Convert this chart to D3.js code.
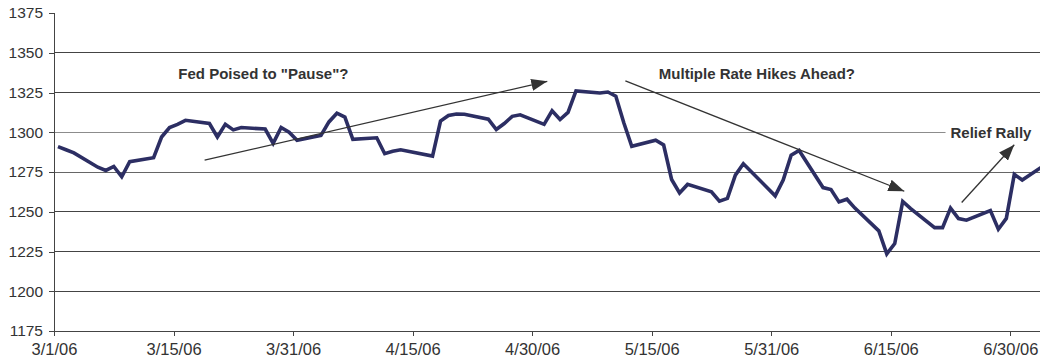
<!DOCTYPE html>
<html>
<head>
<meta charset="utf-8">
<script src="https://cdn.jsdelivr.net/npm/d3@7"></script>
<style>
  body { margin: 0; background: #fff; }
  text { font-family: "Liberation Sans", Arial, Helvetica, sans-serif; }
</style>
</head>
<body>
<div id="chart"></div>
<script>
// S&P 500 daily closes, Mar-Jul 2006
const dates = [
  "3/1/06","3/2/06","3/3/06","3/6/06","3/7/06","3/8/06","3/9/06","3/10/06","3/13/06","3/14/06",
  "3/15/06","3/16/06","3/17/06","3/20/06","3/21/06","3/22/06","3/23/06","3/24/06","3/27/06","3/28/06",
  "3/29/06","3/30/06","3/31/06","4/3/06","4/4/06","4/5/06","4/6/06","4/7/06","4/10/06","4/11/06",
  "4/12/06","4/13/06","4/17/06","4/18/06","4/19/06","4/20/06","4/21/06","4/24/06","4/25/06","4/26/06",
  "4/27/06","4/28/06","5/1/06","5/2/06","5/3/06","5/4/06","5/5/06","5/8/06","5/9/06","5/10/06",
  "5/11/06","5/12/06","5/15/06","5/16/06","5/17/06","5/18/06","5/19/06","5/22/06","5/23/06","5/24/06",
  "5/25/06","5/26/06","5/30/06","5/31/06","6/1/06","6/2/06","6/5/06","6/6/06","6/7/06","6/8/06",
  "6/9/06","6/12/06","6/13/06","6/14/06","6/15/06","6/16/06","6/19/06","6/20/06","6/21/06","6/22/06",
  "6/23/06","6/26/06","6/27/06","6/28/06","6/29/06","6/30/06","7/3/06"
];
const closes = [
  1291, 1289, 1287, 1278, 1276, 1278.5, 1272, 1281.5, 1284, 1297,
  1303, 1305, 1307.5, 1305.5, 1297, 1305, 1301.5, 1303, 1302, 1293,
  1303, 1300, 1295, 1298, 1306.5, 1312, 1309.5, 1295.5, 1296.5, 1286.5,
  1288, 1289, 1285, 1307, 1310.5, 1311.5, 1311.3, 1308.2, 1301.7, 1305.5,
  1310, 1311, 1305, 1313.5, 1308, 1312.5, 1326, 1324.7, 1325.3, 1322.7,
  1306, 1291.2, 1295, 1292, 1270.3, 1261.8, 1267.2, 1262.5, 1256.6, 1258.4,
  1273, 1280.2, 1260, 1270, 1285.5, 1288.5, 1265.2, 1264, 1256.2, 1257.9,
  1252.3, 1238, 1223.5, 1230, 1256.5, 1252, 1240, 1240, 1252.3, 1245.7,
  1244.7, 1250.8, 1239, 1245.8, 1273.5, 1270, 1280
];

const yTicks = [1175, 1200, 1225, 1250, 1275, 1300, 1325, 1350, 1375];
const xTickLabels = ["3/1/06","3/15/06","3/31/06","4/15/06","4/30/06","5/15/06","5/31/06","6/15/06","6/30/06"];

// annotations in data units: day offset from 3/1/06, index level
const noteTexts = ["Fed Poised to \"Pause\"?", "Multiple Rate Hikes Ahead?", "Relief Rally"];
const noteDays  = [15.1, 75.4, 112];
const noteLevels = [1333.3, 1333.3, 1296.4];
const arrowFrom = [[18.4, 1282.4], [71.2, 1332.3], [113.4, 1255.8]];
const arrowTo   = [[61.4, 1332.0], [106.2, 1262.9], [120.0, 1292.1]];

const width = 1040, height = 364;
const margin = {top: 13, right: 0, bottom: 33, left: 54};
const innerH = height - margin.top - margin.bottom;

const parse = d3.timeParse("%m/%d/%y");
const start = parse(dates[0]);
const dayOf = s => d3.timeDay.count(start, parse(s));
const data = dates.map((d, i) => ({day: dayOf(d), value: closes[i]}));

// tick marks sit on day boundaries every 15 days, points in the middle of their day
const x = d3.scaleLinear().domain([-0.5, 119.5]).range([0, 956.3]);
const y = d3.scaleLinear().domain([1175, 1375]).range([innerH, 0]);
const xTickVals = xTickLabels.map((_, i) => -0.5 + 15 * i);

const svg = d3.select("#chart").append("svg")
    .attr("width", width)
    .attr("height", height);

svg.append("defs").append("marker")
    .attr("id", "head")
    .attr("markerUnits", "userSpaceOnUse")
    .attr("viewBox", "0 0 16 12")
    .attr("markerWidth", 16)
    .attr("markerHeight", 12)
    .attr("refX", 16)
    .attr("refY", 6)
    .attr("orient", "auto")
  .append("path")
    .attr("d", "M0,0L16,6L0,12Z")
    .attr("fill", "#333");

const g = svg.append("g").attr("transform", `translate(${margin.left},${margin.top})`);

// grid
g.append("g").selectAll("line")
  .data(yTicks.filter(v => v > 1175 && v < 1375))
  .join("line")
    .attr("x1", 0).attr("x2", width)
    .attr("y1", d => y(d)).attr("y2", d => y(d))
    .attr("stroke", d => d === 1300 ? "#8c8c8c" : d === 1275 ? "#666" : "#444")
    .attr("stroke-width", 1)
    .attr("shape-rendering", "crispEdges");

// axes
const yAxis = g.append("g")
    .call(d3.axisLeft(y).tickValues(yTicks).tickFormat(d3.format("d")).tickSize(5).tickPadding(6));
const xAxis = g.append("g")
    .attr("transform", `translate(0,${innerH})`)
    .call(d3.axisBottom(x).tickValues(xTickVals).tickFormat((_, i) => xTickLabels[i]).tickSize(5).tickPadding(4));

yAxis.select(".domain").attr("d", `M0,0V${innerH}`);
xAxis.select(".domain").attr("d", `M0,0H${width}`);
[yAxis, xAxis].forEach(a => {
  a.selectAll(".domain, .tick line").attr("stroke", "#444").attr("shape-rendering", "crispEdges");
  a.selectAll("text").attr("fill", "#333").style("font-family", "'Liberation Sans', Arial, sans-serif");
});
yAxis.selectAll("text").style("font-size", "15.5px");
xAxis.selectAll("text").style("font-size", "16.5px").attr("dy", "0.9em");

// price line
g.append("path")
    .datum(data)
    .attr("fill", "none")
    .attr("stroke", "#2c2e63")
    .attr("stroke-width", 3.6)
    .attr("stroke-linejoin", "miter")
    .attr("d", d3.line().x(d => x(d.day)).y(d => y(d.value)));

// arrows
g.append("g").selectAll("line")
  .data(arrowFrom.map((f, i) => [f, arrowTo[i]]))
  .join("line")
    .attr("x1", d => x(d[0][0])).attr("y1", d => y(d[0][1]))
    .attr("x2", d => x(d[1][0])).attr("y2", d => y(d[1][1]))
    .attr("stroke", "#333")
    .attr("stroke-width", 1.3)
    .attr("marker-end", "url(#head)");

// notes
const notes = g.append("g").selectAll("g")
  .data(noteTexts.map((t, i) => ({text: t, day: noteDays[i], level: noteLevels[i]})))
  .join("g")
    .attr("transform", d => `translate(${x(d.day)},${y(d.level)})`);

notes.filter((d, i) => i === 2).append("rect")
    .attr("x", -5).attr("y", -14)
    .attr("width", 100).attr("height", 19)
    .attr("fill", "#fff");

notes.append("text")
    .text(d => d.text)
    .attr("fill", "#333")
    .style("font-size", "15px")
    .style("font-weight", "bold");
</script>
</body>
</html>
